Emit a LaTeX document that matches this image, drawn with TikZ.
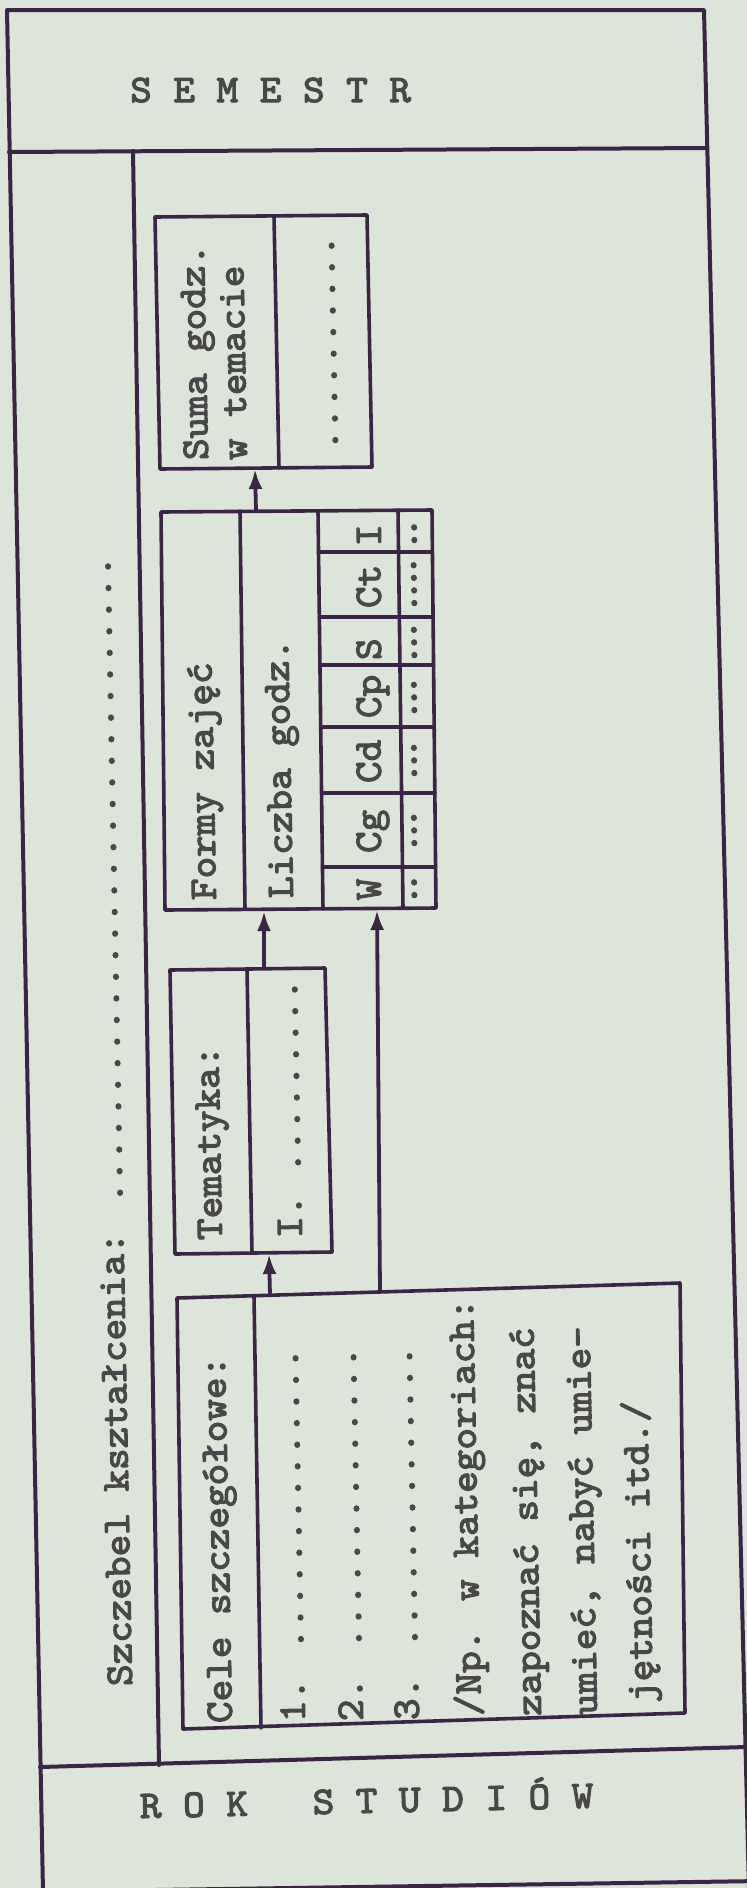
\documentclass[tikz,border=0pt]{standalone}
\usepackage{fontspec}
\usetikzlibrary{arrows.meta}
\definecolor{paper}{RGB}{221,228,217}
\definecolor{ink}{RGB}{58,38,68}
\definecolor{typeink}{RGB}{72,72,72}
\newfontfamily\tw{lmmono10-regular.otf}[FakeStretch=1.055,FakeBold=3]
\newcommand\hdot{.\kern-9pt}
\tikzset{
  frame/.style={draw=ink, line width=4pt, line cap=round, line join=round},
  boxline/.style={draw=ink, line width=3.6pt, line cap=round, line join=round},
  arr/.style={draw=ink, line width=3.8pt, -{Latex[length=20pt,width=14pt]}},
  typed/.style={font=\tw\fontsize{39}{39}\selectfont,
                text=typeink, inner sep=0pt, anchor=base west},
  vtyped/.style={typed, rotate=91.1},
}
\begin{document}
\begin{tikzpicture}[x=1pt,y=-1pt]
\fill[paper] (0,0) rectangle (747,1888);
\useasboundingbox (0,0) rectangle (747,1888);

% ---------- outer frame ----------
\coordinate (otl) at (7,10);
\coordinate (otr) at (704,10);
\coordinate (obr) at (749,1892);
\coordinate (obl) at (43,1892);
\draw[frame] (obl) -- (otl) -- (otr) -- (obr);
\coordinate (bl) at (20,1892);
\coordinate (br) at (760,1881);
\draw[frame] (bl) -- (br);
% semestr line
\coordinate (sl) at (9,152);
\coordinate (sr) at (707,148);
\draw[frame] (sl) -- (sr);
% inner vertical line
\coordinate (it) at (133,151);
\coordinate (ib) at (159,1765);
\draw[frame] (it) -- (ib);
% rok line
\coordinate (rl) at (40,1767);
\coordinate (rr) at (746,1747);
\draw[frame] (rl) -- (rr);

% ---------- Suma box ----------
\coordinate (s1) at (155,217);
\coordinate (s2) at (367,215);
\coordinate (s3) at (372,467);
\coordinate (s4) at (160,469);
\draw[boxline] (s1) -- (s2) -- (s3) -- (s4) -- cycle;
\coordinate (sdt) at (274,216);
\coordinate (sdb) at (279,468);
\draw[boxline] (sdt) -- (sdb);

% ---------- Formy box ----------
\coordinate (f1) at (161,512);
\coordinate (f2) at (432,510);
\coordinate (f3) at (436,908);
\coordinate (f4) at (165,910);
\draw[boxline] (f1) -- (f2) -- (f3) -- (f4) -- cycle;
\coordinate (fa1) at (240,511); \coordinate (fa2) at (245,909);
\coordinate (fb1) at (318,511); \coordinate (fb2) at (323,909);
\coordinate (fc1) at (398,510); \coordinate (fc2) at (403,908);
\draw[boxline] (fa1) -- (fa2);
\draw[boxline] (fb1) -- (fb2);
\draw[boxline] (fc1) -- (fc2);
\foreach \yy/\nm in {552/g1,617/g2,665/g3,727/g4,793/g5,867/g6}{
  \coordinate (\nm a) at ({318+(\yy-511)*0.0126},\yy);
  \coordinate (\nm b) at ({432+(\yy-510)*0.01},\yy);
  \draw[boxline] (\nm a) -- (\nm b);
}

% ---------- Tematyka box ----------
\coordinate (t1) at (170,970);
\coordinate (t2) at (325,968);
\coordinate (t3) at (332,1252);
\coordinate (t4) at (175,1254);
\draw[boxline] (t1) -- (t2) -- (t3) -- (t4) -- cycle;
\coordinate (tdt) at (247,969);
\coordinate (tdb) at (252,1253);
\draw[boxline] (tdt) -- (tdb);

% ---------- Cele box ----------
\coordinate (c1) at (177,1298);
\coordinate (c2) at (680,1283);
\coordinate (c3) at (685,1713);
\coordinate (c4) at (183,1729);
\draw[boxline] (c1) -- (c2) -- (c3) -- (c4) -- cycle;
\coordinate (cdt) at (254,1296);
\coordinate (cdb) at (261,1728);
\draw[boxline] (cdt) -- (cdb);

% ---------- arrows ----------
\coordinate (a1s) at (270,1295); \coordinate (a1e) at (269,1254);
\coordinate (a2s) at (380,1291); \coordinate (a2e) at (377,910);
\coordinate (a3s) at (264,969);  \coordinate (a3e) at (264,911);
\coordinate (a4s) at (256,511);  \coordinate (a4e) at (255,469);
\draw[arr] (a1s) -- (a1e);
\draw[arr] (a2s) -- (a2e);
\draw[arr] (a3s) -- (a3e);
\draw[arr] (a4s) -- (a4e);

% ---------- horizontal texts ----------
\node[typed] (sem) at (130,102) {S E M E S T R};
\node[typed, rotate=1.3] (rok) at (140,1818) {R O K\ \ \ S T U D I Ó W};

% ---------- vertical texts ----------
\node[vtyped] (szcz) at (132,1686) {Szczebel kształcenia: ..............................};

\node[vtyped] (celeh) at (232,1723) {Cele szczegółowe:};
\node[vtyped] (cl1) at (305,1722) {1. ..............};
\node[vtyped] (cl2) at (363,1721) {2. ..............};
\node[vtyped] (cl3) at (419,1720) {3. ..............};
\node[vtyped] (cl4) at (481,1716) {/Np. w kategoriach:};
\node[vtyped] (cl5) at (541,1716) {zapoznać się, znać};
\node[vtyped] (cl6) at (597,1715) {umieć, nabyć umie-};
\node[vtyped] (cl7) at (653,1703) {jętności itd./};

\node[vtyped] (temh) at (222,1240) {Tematyka:};
\node[vtyped] (temb) at (302,1238) {I. .........};

\node[vtyped] (formy) at (216,900) {Formy zajęć};
\node[vtyped] (liczba) at (293,898) {Liczba godz.};
\node[vtyped] (lw)  at (381,900) {W};
\node[vtyped] (lcg) at (381,853) {Cg};
\node[vtyped] (lcd) at (381,783) {Cd};
\node[vtyped] (lcp) at (381,718) {Cp};
\node[vtyped] (ls)  at (381,660) {S};
\node[vtyped] (lct) at (381,608) {Ct};
\node[vtyped] (li)  at (381,546) {I};

\node[vtyped] (dw)  at (417,906) {\hdot.};
\node[vtyped] (dcg) at (417,854) {\hdot\hdot.};
\node[vtyped] (dcd) at (417,784) {\hdot\hdot.};
\node[vtyped] (dcp) at (417,721) {\hdot\hdot.};
\node[vtyped] (ds)  at (417,666) {\hdot\hdot.};
\node[vtyped] (dct) at (417,614) {\hdot\hdot\hdot.};
\node[vtyped] (di)  at (417,551) {\hdot.};

\node[vtyped] (suma1) at (208,460) {Suma godz.};
\node[vtyped] (suma2) at (247,460) {w temacie};
\node[vtyped] (sumad) at (338,451) {..........};
\end{tikzpicture}
\end{document}
